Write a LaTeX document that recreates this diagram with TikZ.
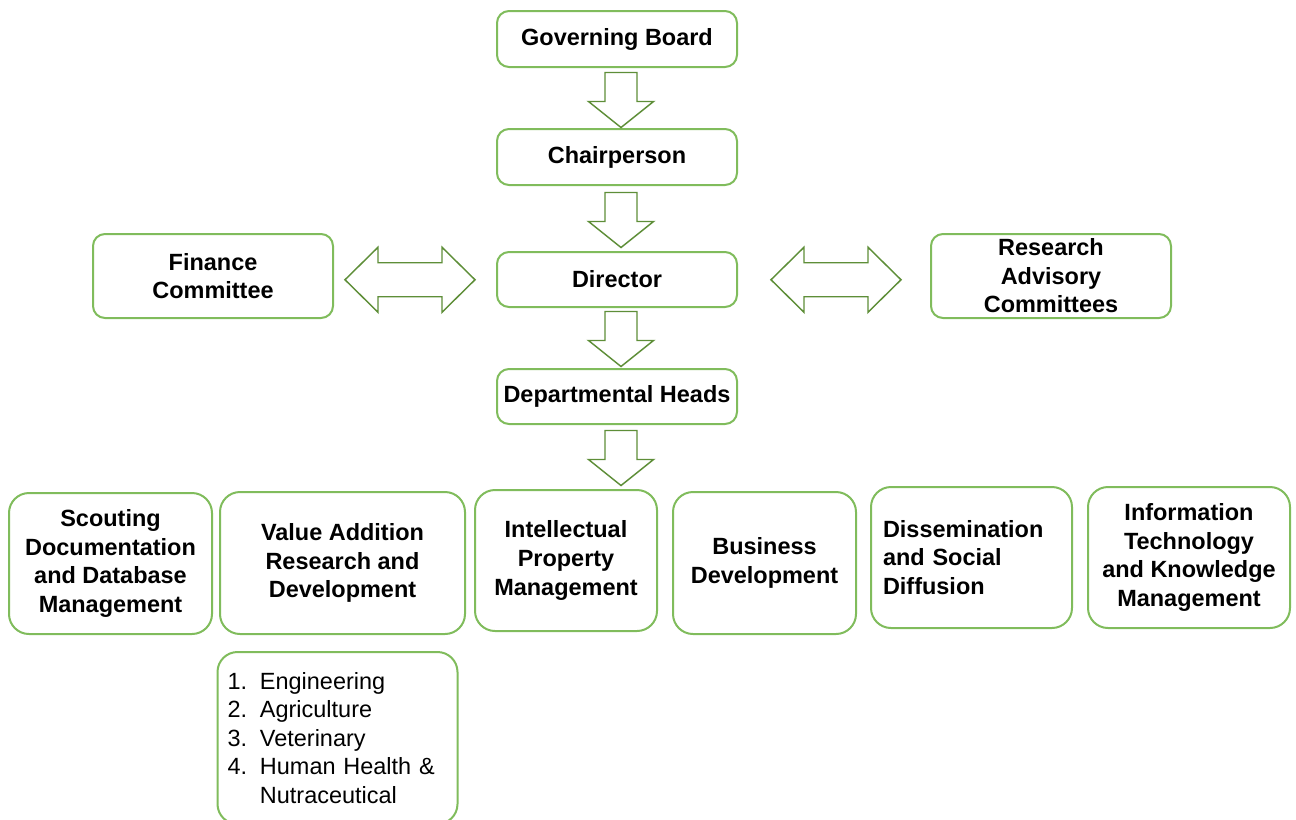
\documentclass[tikz,border=0pt]{standalone}
\usepackage{fontspec}
\setmainfont{Liberation Sans}
\usetikzlibrary{calc}
\definecolor{boxgreen}{RGB}{128,188,92}
\definecolor{arrowgreen}{RGB}{94,142,56}

\tikzset{
  unitbox/.style={draw=boxgreen, line width=1.5pt, rounded corners=9pt, fill=white,
    align=center, inner sep=2pt, font=\fontsize{17.6}{21.4}\selectfont\bfseries},
  topbox/.style={unitbox, minimum width=180pt, minimum height=42pt},
  sidebox/.style={unitbox, minimum width=180pt, minimum height=63pt},
  deptbox/.style={unitbox, rounded corners=15pt, minimum height=105.75pt},
  blockarrow/.style={draw=arrowgreen, line width=1.1pt, fill=white, line join=miter},
  downblock/.pic={\draw[blockarrow] (-16,-27.5) -- (16,-27.5) -- (16,1.5) -- (32.5,1.5)
    -- (0,27.5) -- (-32.5,1.5) -- (-16,1.5) -- cycle;},
  sideblock/.pic={\draw[blockarrow] (-65,0) -- (-32,-32.5) -- (-32,-17) -- (32,-17)
    -- (32,-32.5) -- (65,0) -- (32,32.5) -- (32,17) -- (-32,17) -- (-32,32.5) -- cycle;}
}

\begin{document}
\begin{tikzpicture}[x=0.75pt, y=-0.75pt]
  \useasboundingbox (0,0) rectangle (1296,819);

  % chain of command
  \node[topbox] (board) at (617,39)    {Governing Board};
  \node[topbox] (chair) at (617,157)   {Chairperson};
  \node[topbox, minimum height=41.25pt] (dir) at (617,279.5) {Director};
  \node[topbox, minimum height=41.25pt] (dept) at (617,396.5) {Departmental Heads};

  % committees beside the director
  \node[sidebox] (fin) at (213,276)  {Finance\\Committee};
  \node[sidebox] (rac) at (1051,276) {Research\\Advisory\\Committees};

  % departments
  \node[deptbox, minimum width=152.25pt] (scout) at (110.5,563.5) {Scouting\\Documentation\\and Database\\Management};
  \node[deptbox, minimum width=183.75pt, minimum height=106.5pt] (valadd) at (342.5,563) {Value Addition\\Research and\\Development};
  \node[deptbox, minimum width=136.5pt] (ipm) at (566,560.5) {Intellectual\\Property\\Management};
  \node[deptbox, minimum width=137.25pt, minimum height=106.5pt] (bizdev) at (764.5,563) {Business\\Development};
  \node[deptbox, align=left, inner xsep=9pt, text width=132.75pt] (diss) at (971.5,557.5) {Dissemination\\and Social\\Diffusion};
  \node[deptbox, minimum width=151.5pt] (itkm) at (1189,557.5) {Information\\Technology\\and Knowledge\\Management};

  % sub-units of value addition
  \node[unitbox, rounded corners=15pt, align=left, inner xsep=7.5pt, text width=165pt,
    minimum height=129pt, font=\fontsize{17.6}{21.4}\selectfont] (subs) at (337.5,738)
    {1.\hspace{0.55em}Engineering\\2.\hspace{0.55em}Agriculture\\3.\hspace{0.55em}Veterinary\\
     4.\hspace{0.55em}Human Health \&\\\phantom{4.}\hspace{0.55em}Nutraceutical};

  % block arrows
  \coordinate (deptlow) at (dept.south |- ipm.north);
  \pic at ($(board.south)!0.5!(chair.north)+(4,2)$) {downblock};
  \pic at ($(chair.south)!0.5!(dir.north)+(4,1.5)$) {downblock};
  \pic at ($(dir.south)!0.5!(dept.north)+(4,1)$) {downblock};
  \pic at ($(dept.south)!0.5!(deptlow)+(4,1)$) {downblock};
  \pic at ($(fin.east)!0.5!(dir.west)+(-5,2)$) {sideblock};
  \pic at ($(dir.east)!0.5!(rac.west)+(2,2)$) {sideblock};
\end{tikzpicture}
\end{document}
